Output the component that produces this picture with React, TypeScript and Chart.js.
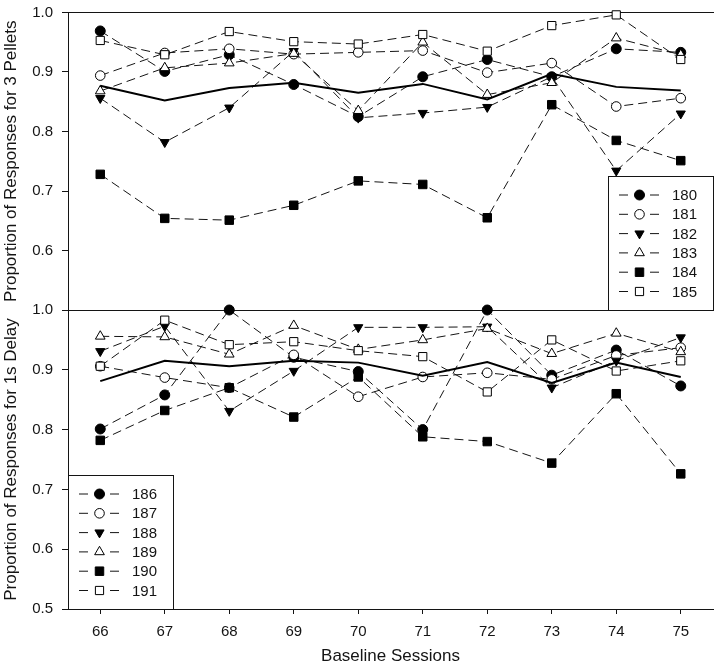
import React, { useEffect, useRef } from 'react';
import { Chart, registerables } from 'chart.js';

Chart.register(...registerables);

// ---------- data ----------
const sessions = ['66', '67', '68', '69', '70', '71', '72', '73', '74', '75'];

const pelletLabels = ['180', '181', '182', '183', '184', '185'];
const pellets180 = [0.969, 0.901, 0.929, 0.879, 0.825, 0.892, 0.921, 0.892, 0.939, 0.933];
const pellets181 = [0.894, 0.932, 0.939, 0.930, 0.933, 0.936, 0.899, 0.915, 0.842, 0.856];
const pellets182 = [0.856, 0.782, 0.840, 0.935, 0.823, 0.831, 0.841, 0.892, 0.734, 0.830];
const pellets183 = [0.868, 0.907, 0.915, 0.931, 0.835, 0.950, 0.862, 0.882, 0.957, 0.929];
const pellets184 = [0.728, 0.654, 0.651, 0.676, 0.717, 0.711, 0.655, 0.845, 0.785, 0.751];
const pellets185 = [0.953, 0.929, 0.968, 0.951, 0.947, 0.963, 0.935, 0.978, 0.996, 0.921];
const pelletsMean = [0.877, 0.852, 0.873, 0.882, 0.865, 0.880, 0.854, 0.897, 0.875, 0.869];

const delayLabels = ['186', '187', '188', '189', '190', '191'];
const delay186 = [0.801, 0.858, 1.0, 0.921, 0.897, 0.800, 1.0, 0.891, 0.933, 0.873];
const delay187 = [0.906, 0.887, 0.870, 0.925, 0.855, 0.888, 0.895, 0.884, 0.924, 0.937];
const delay188 = [0.931, 0.973, 0.831, 0.898, 0.971, 0.971, 0.972, 0.870, 0.915, 0.954];
const delay189 = [0.956, 0.955, 0.926, 0.974, 0.934, 0.950, 0.969, 0.927, 0.961, 0.930];
const delay190 = [0.782, 0.832, 0.870, 0.821, 0.888, 0.788, 0.780, 0.744, 0.860, 0.726];
const delay191 = [0.906, 0.983, 0.942, 0.947, 0.932, 0.922, 0.863, 0.950, 0.898, 0.915];
const delayMean = [0.881, 0.915, 0.906, 0.915, 0.912, 0.890, 0.913, 0.878, 0.912, 0.888];

const topTitle = 'Proportion of Responses for 3 Pellets';
const bottomTitle = 'Proportion of Responses for 1s Delay';
const xTitle = 'Baseline Sessions';

// ---------- styles ----------
const FONT = '"Liberation Sans", Arial, Helvetica, sans-serif';
const INK = '#141414';

const markers = [
  { pointStyle: 'circle', fill: '#000', radius: 5, rotation: 0 },
  { pointStyle: 'circle', fill: '#fff', radius: 4.8, rotation: 0 },
  { pointStyle: 'triangle', fill: '#000', radius: 5.3, rotation: 180 },
  { pointStyle: 'triangle', fill: '#fff', radius: 5.6, rotation: 0 },
  { pointStyle: 'rect', fill: '#000', radius: 6, rotation: 0 },
  { pointStyle: 'rect', fill: '#fff', radius: 5.8, rotation: 0 },
];

function drawMarker(ctx: CanvasRenderingContext2D, m: any, x: number, y: number) {
  ctx.beginPath();
  const r = m.radius;
  if (m.pointStyle === 'circle') {
    ctx.arc(x, y, r, 0, Math.PI * 2);
  } else if (m.pointStyle === 'triangle') {
    let rad = (m.rotation * Math.PI) / 180;
    ctx.moveTo(x + Math.sin(rad) * r, y - Math.cos(rad) * r);
    rad += (2 * Math.PI) / 3;
    ctx.lineTo(x + Math.sin(rad) * r, y - Math.cos(rad) * r);
    rad += (2 * Math.PI) / 3;
    ctx.lineTo(x + Math.sin(rad) * r, y - Math.cos(rad) * r);
    ctx.closePath();
  } else {
    const s = Math.SQRT1_2 * r;
    ctx.rect(x - s, y - s, 2 * s, 2 * s);
  }
  ctx.fillStyle = m.fill;
  ctx.fill();
  ctx.strokeStyle = '#000';
  ctx.lineWidth = 1;
  ctx.stroke();
}

const boxLegend = {
  id: 'boxLegend',
  afterDraw(chart: any, _args: any, opts: any) {
    if (!opts || !opts.display) return;
    const { ctx, chartArea } = chart;
    const w = opts.width;
    const h = opts.height;
    const left = opts.align === 'right' ? chartArea.right - w : chartArea.left;
    const top = chartArea.bottom - h;
    ctx.save();
    ctx.fillStyle = '#fff';
    ctx.fillRect(left, top, w, h);
    ctx.strokeStyle = INK;
    ctx.lineWidth = 1;
    ctx.strokeRect(Math.round(left) + 0.5, Math.round(top) + 0.5, w, h);
    const items = chart.data.datasets.filter((d: any) => d.markerIndex !== undefined);
    items.forEach((ds: any, i: number) => {
      const y = top + opts.firstRow + i * opts.rowStep;
      ctx.strokeStyle = INK;
      ctx.lineWidth = 1;
      ctx.beginPath();
      ctx.moveTo(left + 11, y);
      ctx.lineTo(left + 20, y);
      ctx.moveTo(left + 42, y);
      ctx.lineTo(left + 51, y);
      ctx.stroke();
      drawMarker(ctx, markers[ds.markerIndex], left + 31.5, y);
      ctx.fillStyle = INK;
      ctx.font = `15px ${FONT}`;
      ctx.textBaseline = 'middle';
      ctx.textAlign = 'left';
      ctx.fillText(ds.label, left + 64, y + 1);
    });
    ctx.restore();
  },
};

function makeDatasets(labels: string[], series: number[][], mean: number[]) {
  const n = series.length;
  const ds: any[] = series.map((data, i) => {
    const m = markers[i];
    return {
      label: labels[i],
      data,
      markerIndex: i,
      borderColor: INK,
      borderWidth: 1,
      borderDash: [9, 5],
      pointStyle: m.pointStyle,
      pointRotation: m.rotation,
      pointRadius: m.radius,
      pointBackgroundColor: m.fill,
      pointBorderColor: '#000',
      pointBorderWidth: 1,
      fill: false,
      tension: 0,
      clip: false,
      order: n - i + 1,
    };
  });
  ds.push({
    label: 'Mean',
    data: mean,
    borderColor: '#000',
    borderWidth: 2,
    pointRadius: 0,
    fill: false,
    tension: 0,
    clip: false,
    order: 0,
  });
  return ds;
}

function yScale(title: string, hideBottom: boolean) {
  return {
    type: 'linear',
    position: 'left',
    min: 0.5,
    max: 1.0,
    ticks: {
      stepSize: 0.1,
      color: INK,
      font: { family: FONT, size: 15 },
      padding: 9,
      callback: (v: any) => {
        const num = Number(v);
        if (hideBottom && num < 0.55) return '';
        return num.toFixed(1);
      },
    },
    grid: { drawOnChartArea: false, tickLength: 6, color: INK, lineWidth: 1 },
    border: { display: true, color: INK, width: 1 },
    title: {
      display: true,
      text: title,
      color: INK,
      font: { family: FONT, size: 17 },
      padding: { top: 1, bottom: 0 },
    },
    afterFit: (s: any) => {
      s.width = 68;
      s.paddingTop = 0;
      s.paddingBottom = 0;
    },
  };
}

const topBorderScale = {
  type: 'category',
  position: 'top',
  offset: true,
  display: true,
  grid: { display: false, drawTicks: false },
  ticks: { display: false },
  border: { display: true, color: INK, width: 1 },
  afterFit: (s: any) => {
    s.height = 0;
  },
};

function ChartPanel(props: { which: 'top' | 'bottom'; top: number; height: number }) {
  const ref = useRef<HTMLCanvasElement | null>(null);
  useEffect(() => {
    if (!ref.current) return;
    const isTop = props.which === 'top';
    const datasets = isTop
      ? makeDatasets(pelletLabels, [pellets180, pellets181, pellets182, pellets183, pellets184, pellets185], pelletsMean)
      : makeDatasets(delayLabels, [delay186, delay187, delay188, delay189, delay190, delay191], delayMean);
    const xScale: any = isTop
      ? { type: 'category', offset: true, display: false }
      : {
          type: 'category',
          offset: true,
          grid: { offset: false, drawOnChartArea: false, tickLength: 5, color: INK, lineWidth: 1 },
          border: { display: true, color: INK, width: 1 },
          ticks: {
            color: INK,
            font: { family: FONT, size: 15 },
            padding: 9,
            maxRotation: 0,
            autoSkip: false,
          },
          title: {
            display: true,
            text: xTitle,
            color: INK,
            font: { family: FONT, size: 17 },
            padding: { top: 0, bottom: 0 },
          },
          afterFit: (s: any) => {
            s.height = 58;
          },
        };
    const chart = new Chart(ref.current, {
      type: 'line',
      data: { labels: sessions, datasets },
      options: {
        responsive: false,
        maintainAspectRatio: false,
        animation: false,
        devicePixelRatio: 1,
        layout: {
          padding: isTop
            ? { top: 12.5, right: 6, bottom: 20, left: 0 }
            : { top: 30, right: 6, bottom: 0, left: 0 },
        },
        plugins: {
          legend: { display: false },
          tooltip: { enabled: false },
          boxLegend: {
            display: true,
            align: isTop ? 'right' : 'left',
            width: 105,
            height: 134,
            firstRow: 19,
            rowStep: 19.3,
          },
        } as any,
        scales: {
          x: xScale,
          xTop: topBorderScale as any,
          y: yScale(isTop ? topTitle : bottomTitle, isTop) as any,
        },
      } as any,
      plugins: [boxLegend as any],
    });
    return () => chart.destroy();
  }, [props.which]);
  return (
    <canvas
      ref={ref}
      width={720}
      height={props.height}
      style={{ position: 'absolute', left: 0, top: props.top, width: 720, height: props.height, display: 'block' }}
    />
  );
}

export default function App() {
  return (
    <div style={{ position: 'fixed', left: 0, top: 0, width: 720, height: 667, background: '#fff', overflow: 'hidden' }}>
      <ChartPanel which="top" top={0} height={330} />
      <ChartPanel which="bottom" top={280} height={387} />
    </div>
  );
}
